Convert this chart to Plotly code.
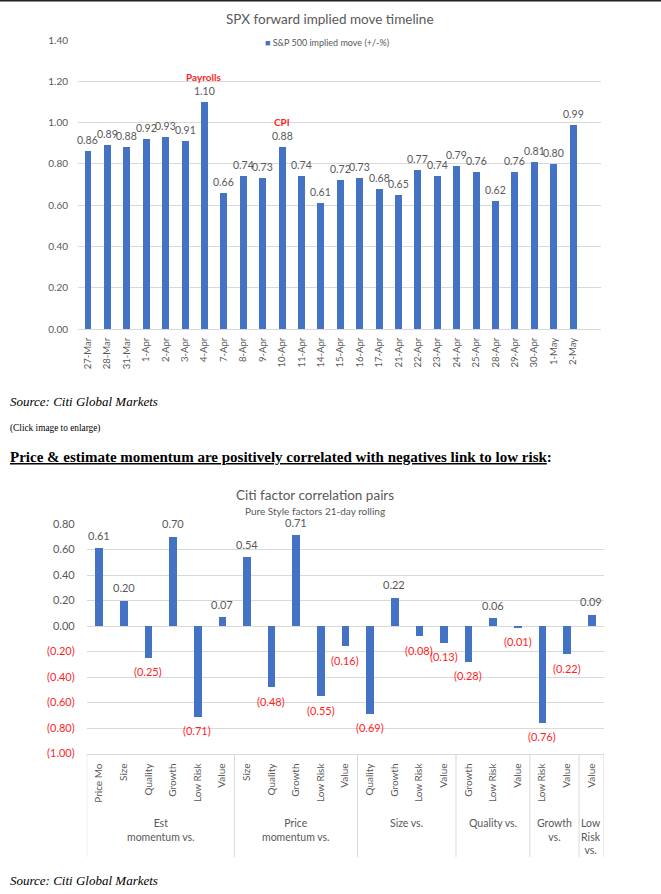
import plotly.graph_objects as go

W, H = 661, 894

# ---------------- data ----------------
spx_dates = ["27-Mar", "28-Mar", "31-Mar", "1-Apr", "2-Apr", "3-Apr", "4-Apr", "7-Apr",
             "8-Apr", "9-Apr", "10-Apr", "11-Apr", "14-Apr", "15-Apr", "16-Apr", "17-Apr",
             "21-Apr", "22-Apr", "23-Apr", "24-Apr", "25-Apr", "28-Apr", "29-Apr", "30-Apr",
             "1-May", "2-May"]
spx_moves = [0.86, 0.89, 0.88, 0.92, 0.93, 0.91, 1.10, 0.66, 0.74, 0.73, 0.88, 0.74, 0.61,
             0.72, 0.73, 0.68, 0.65, 0.77, 0.74, 0.79, 0.76, 0.62, 0.76, 0.81, 0.80, 0.99]
spx_events = {"4-Apr": "Payrolls", "10-Apr": "CPI"}
spx_ticks = [0.0, 0.2, 0.4, 0.6, 0.8, 1.0, 1.2, 1.4]

corr_groups = ["Est<br>momentum vs.", "Price<br>momentum vs.", "Size vs.",
               "Quality vs.", "Growth<br>vs.", "Low<br>Risk<br>vs."]
corr_factors = [["Price Mo", "Size", "Quality", "Growth", "Low Risk", "Value"],
                ["Size", "Quality", "Growth", "Low Risk", "Value"],
                ["Quality", "Growth", "Low Risk", "Value"],
                ["Growth", "Low Risk", "Value"],
                ["Low Risk", "Value"],
                ["Value"]]
corr_values = [[0.61, 0.20, -0.25, 0.70, -0.71, 0.07],
               [0.54, -0.48, 0.71, -0.55, -0.16],
               [-0.69, 0.22, -0.08, -0.13],
               [-0.28, 0.06, -0.01],
               [-0.76, -0.22],
               [0.09]]
corr_ticks = [0.8, 0.6, 0.4, 0.2, 0.0, -0.2, -0.4, -0.6, -0.8, -1.0]

# ---------------- style ----------------
FONT = "Lato, 'Open Sans', sans-serif"
SERIF = "'Liberation Serif', 'Times New Roman', serif"
GRAY = "#595959"
GRID = "#D9D9D9"
BLUE = "#4472C4"
RED = "#FF1F1F"


def px(x):
    return x / W


def py(y):
    return 1 - y / H


def fmt(v):
    return f"({abs(v):.2f})" if v < 0 else f"{v:.2f}"


fig = go.Figure()

# ---------------- top chart ----------------
fig.add_trace(go.Bar(x=spx_dates, y=spx_moves, marker_color=BLUE, width=0.36,
                     xaxis="x", yaxis="y", showlegend=False, hoverinfo="x+y"))

annotations = []
for d, v in zip(spx_dates, spx_moves):
    annotations.append(dict(x=d, y=v, xref="x", yref="y", text=fmt(v), showarrow=False,
                            xanchor="center", yanchor="middle", yshift=11,
                            font=dict(family=FONT, size=10.5, color=GRAY)))
    if d in spx_events:
        annotations.append(dict(x=d, y=v, xref="x", yref="y", text=f"<b>{spx_events[d]}</b>",
                                showarrow=False, xanchor="center", yanchor="middle", yshift=25,
                                font=dict(family=FONT, size=10, color=RED)))

annotations.append(dict(x=px(330), y=py(19), xref="paper", yref="paper",
                        text="SPX forward implied move timeline", showarrow=False,
                        xanchor="center", yanchor="middle",
                        font=dict(family=FONT, size=13.5, color=GRAY)))
annotations.append(dict(x=px(327), y=py(43), xref="paper", yref="paper",
                        text=f"<span style='color:{BLUE}'>■</span> S&P 500 implied move (+/-%)",
                        showarrow=False, xanchor="center", yanchor="middle",
                        font=dict(family=FONT, size=9, color=GRAY)))

# ---------------- bottom chart ----------------
flat_x, flat_lab, flat_val = [], [], []
group_bounds = []
i = 0
for facs, vals in zip(corr_factors, corr_values):
    start = i
    for f, v in zip(facs, vals):
        flat_x.append(i)
        flat_lab.append(f)
        flat_val.append(v)
        i += 1
    group_bounds.append((start, i - 1))

fig.add_trace(go.Bar(x=flat_x, y=flat_val, marker_color=BLUE, width=0.31,
                     xaxis="x2", yaxis="y2", showlegend=False, hoverinfo="y"))

for x, v in zip(flat_x, flat_val):
    annotations.append(dict(x=x, y=v, xref="x2", yref="y2", text=fmt(v), showarrow=False,
                            xanchor="center", yanchor="middle", yshift=13 if v >= 0 else -14,
                            font=dict(family=FONT, size=11, color=GRAY if v >= 0 else RED)))

annotations.append(dict(x=px(315), y=py(495), xref="paper", yref="paper",
                        text="Citi factor correlation pairs", showarrow=False,
                        xanchor="center", yanchor="middle",
                        font=dict(family=FONT, size=13.5, color=GRAY)))
annotations.append(dict(x=px(315), y=py(511), xref="paper", yref="paper",
                        text="Pure Style factors 21-day rolling", showarrow=False,
                        xanchor="center", yanchor="middle",
                        font=dict(family=FONT, size=10, color=GRAY)))

shapes = []
line_top = py(754)
line_bot = py(857)
edges = [group_bounds[0][0] - 0.5] + [b[1] + 0.5 for b in group_bounds]
for e in edges:
    shapes.append(dict(type="line", xref="x2", yref="paper", x0=e, x1=e, y0=line_top, y1=line_bot,
                       line=dict(color=GRID, width=1)))
for g, (s, e) in zip(corr_groups, group_bounds):
    annotations.append(dict(x=(s + e) / 2, y=py(815), xref="x2", yref="paper", text=g,
                            showarrow=False, xanchor="center", yanchor="top", align="center",
                            font=dict(family=FONT, size=10.5, color=GRAY)))

# ---------------- page text ----------------
shapes.append(dict(type="rect", xref="paper", yref="paper", x0=0, x1=1, y0=py(1.5), y1=1,
                   fillcolor="#222222", line=dict(width=0)))
page_text = [
    (8, 401, "<i>Source: Citi Global Markets</i>", 13),
    (8, 428, "(Click image to enlarge)", 9.3),
    (8, 457, "<b><u>Price & estimate momentum are positively correlated with negatives link to low risk</u>:</b>", 15),
    (8, 880, "<i>Source: Citi Global Markets</i>", 13),
]
for x, y, t, s in page_text:
    annotations.append(dict(x=px(x), y=py(y), xref="paper", yref="paper", text=t,
                            showarrow=False, xanchor="left", yanchor="middle",
                            font=dict(family=SERIF, size=s, color="#000000")))

corr_ticktext = []
for t in corr_ticks:
    lab = fmt(t) if abs(t) > 1e-9 else "0.00"
    if t < -1e-9:
        lab = f"<span style='color:{RED}'>{lab}</span>"
    corr_ticktext.append(lab)

fig.update_layout(
    template="none",
    width=W, height=H,
    margin=dict(l=0, r=0, t=0, b=0, pad=0, autoexpand=False),
    paper_bgcolor="white", plot_bgcolor="white",
    bargap=0,
    showlegend=False,
    xaxis=dict(domain=[px(78), px(601)], type="category", range=[-0.515, 26.44],
               tickangle=-90, tickfont=dict(family=FONT, size=9.5, color=GRAY),
               showgrid=False, showline=True, linecolor=GRID, ticks="",
               ticklabelstandoff=4, anchor="y", automargin=False),
    yaxis=dict(domain=[py(329), py(40)], range=[0, 1.4], tickvals=spx_ticks,
               tickformat=".2f", tickfont=dict(family=FONT, size=10, color=GRAY),
               showgrid=True, gridcolor=GRID, gridwidth=1, zeroline=False, showline=False,
               ticks="", ticklabelstandoff=9, anchor="x", automargin=False),
    xaxis2=dict(domain=[px(86.7), px(603.7)], range=[-0.5, len(flat_x) - 0.5],
                tickvals=flat_x, ticktext=flat_lab, tickangle=-90,
                tickfont=dict(family=FONT, size=10, color=GRAY),
                showgrid=False, showline=True, linecolor=GRID, ticks="",
                ticklabelstandoff=5, anchor="y2", automargin=False),
    yaxis2=dict(domain=[py(753.5), py(524)], range=[-1.0, 0.8], tickvals=corr_ticks,
                ticktext=corr_ticktext, tickfont=dict(family=FONT, size=11, color=GRAY),
                showgrid=True, gridcolor=GRID, gridwidth=1, zeroline=False, showline=False,
                ticks="", ticklabelstandoff=11, anchor="x2", automargin=False),
    annotations=annotations,
    shapes=shapes,
)

fig.write_html("out.html", config={"displayModeBar": False},
               post_script="document.body.style.margin='0';document.body.style.overflow='hidden';")
